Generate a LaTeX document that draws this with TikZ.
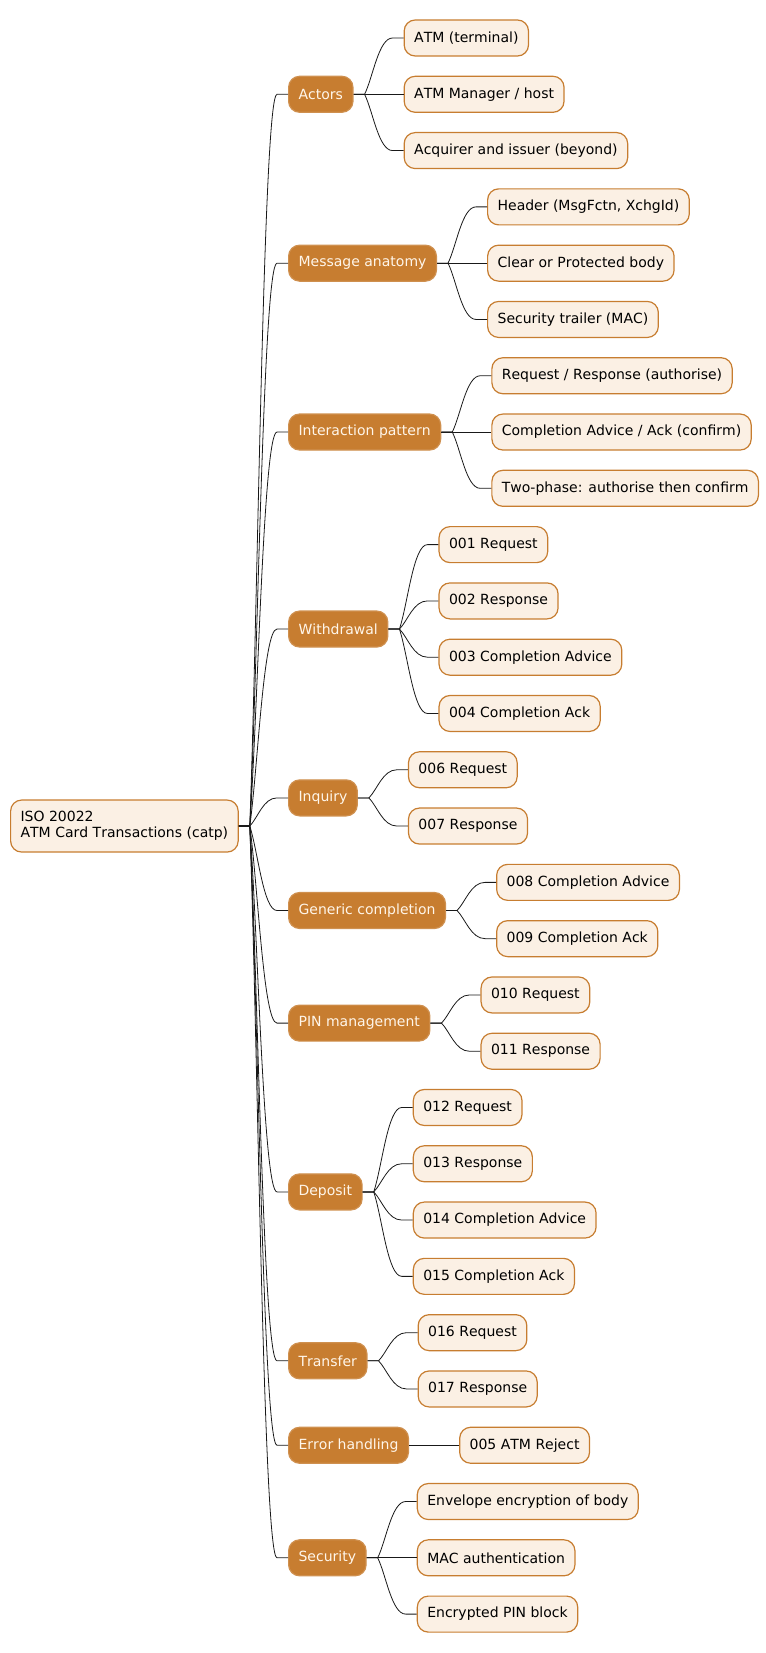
\documentclass[tikz,border=0pt]{standalone}
\usepackage{fontspec}
\setmainfont{DejaVu Sans}[Kerning=Off]
\usetikzlibrary{calc}
\definecolor{mmorange}{HTML}{C77D30}
\definecolor{mmcream}{HTML}{FBF0E4}
\definecolor{mmtext}{HTML}{FFF6EA}
\tikzset{
 mmbase/.style={rounded corners=11pt, minimum height=36pt, inner xsep=10pt, inner ysep=0pt,
   font=\fontsize{14pt}{16pt}\selectfont, line width=1.2pt, anchor=west},
 leaf/.style={mmbase, draw=mmorange, fill=mmcream, text=black},
 branch/.style={mmbase, draw=mmorange!85!white, fill=mmorange, text=mmtext},
 rootnode/.style={mmbase, draw=mmorange, fill=mmcream, text=black, align=left, minimum height=52pt},
 edge/.style={draw=black!90, line width=0.8pt},
}
\newcommand\mmedge[2]{\draw[edge] let \p1=(#1.east), \p2=(#2.west) in
  (\p1) -- (\x1+11pt,\y1) .. controls ({\x1+11pt+0.3*(\x2-\x1-22pt)},{\y1+0.3*(\y2-\y1)}) and ({0.5*(\x1+\x2)},\y2) .. (\x2-11pt,\y2) -- (\p2);}
\newcommand\mmbranch[3]{\node[branch] (#1) at (288,#2) {#3}; \mmedge{root}{#1}}
\newcommand\mmleaf[4]{\node[leaf] (#2) at ([xshift=50pt,yshift=#3*56.29pt]#1.east) {#4}; \mmedge{#1}{#2}}
\begin{document}
\begin{tikzpicture}[x=1pt,y=-1pt]
\useasboundingbox (0,0) rectangle (765,1653);
\node[rootnode] (root) at (10,826.05) {ISO 20022\\ATM Card Transactions (catp)};

\mmbranch{actors}{94.29}{Actors}
\mmleaf{actors}{a1}{1}{ATM (terminal)}
\mmleaf{actors}{a2}{0}{ATM Manager / host}
\mmleaf{actors}{a3}{-1}{Acquirer and issuer (beyond)}

\mmbranch{anat}{263.16}{Message anatomy}
\mmleaf{anat}{b1}{1}{Header (MsgFctn, XchgId)}
\mmleaf{anat}{b2}{0}{Clear or Protected body}
\mmleaf{anat}{b3}{-1}{Security trailer (MAC)}

\mmbranch{inter}{432.03}{Interaction pattern}
\mmleaf{inter}{c1}{1}{Request / Response (authorise)}
\mmleaf{inter}{c2}{0}{Completion Advice / Ack (confirm)}
\mmleaf{inter}{c3}{-1}{Two-phase: authorise then confirm}

\mmbranch{withd}{629.05}{Withdrawal}
\mmleaf{withd}{d1}{1.5}{001 Request}
\mmleaf{withd}{d2}{0.5}{002 Response}
\mmleaf{withd}{d3}{-0.5}{003 Completion Advice}
\mmleaf{withd}{d4}{-1.5}{004 Completion Ack}

\mmbranch{inq}{797.9}{Inquiry}
\mmleaf{inq}{e1}{0.5}{006 Request}
\mmleaf{inq}{e2}{-0.5}{007 Response}

\mmbranch{gen}{910.5}{Generic completion}
\mmleaf{gen}{f1}{0.5}{008 Completion Advice}
\mmleaf{gen}{f2}{-0.5}{009 Completion Ack}

\mmbranch{pin}{1023.1}{PIN management}
\mmleaf{pin}{g1}{0.5}{010 Request}
\mmleaf{pin}{g2}{-0.5}{011 Response}

\mmbranch{dep}{1191.9}{Deposit}
\mmleaf{dep}{h1}{1.5}{012 Request}
\mmleaf{dep}{h2}{0.5}{013 Response}
\mmleaf{dep}{h3}{-0.5}{014 Completion Advice}
\mmleaf{dep}{h4}{-1.5}{015 Completion Ack}

\mmbranch{trans}{1360.8}{Transfer}
\mmleaf{trans}{i1}{0.5}{016 Request}
\mmleaf{trans}{i2}{-0.5}{017 Response}

\mmbranch{err}{1445.25}{Error handling}
\mmleaf{err}{j1}{0}{005 ATM Reject}

\mmbranch{sec}{1557.8}{Security}
\mmleaf{sec}{k1}{1}{Envelope encryption of body}
\mmleaf{sec}{k2}{0}{MAC authentication}
\mmleaf{sec}{k3}{-1}{Encrypted PIN block}
\end{tikzpicture}
\end{document}
